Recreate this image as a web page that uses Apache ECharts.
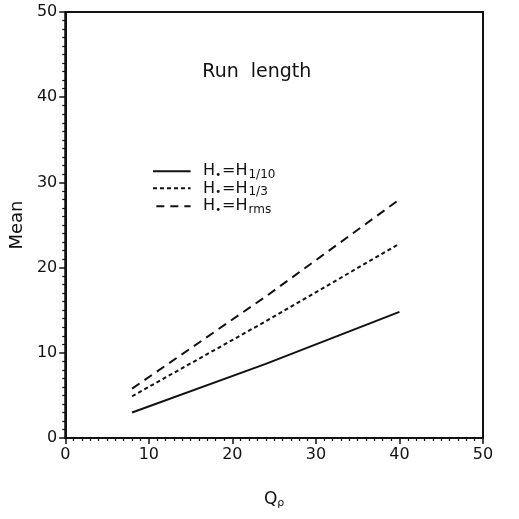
<!DOCTYPE html>
<html>
<head>
<meta charset="utf-8">
<script src="https://cdn.jsdelivr.net/npm/echarts@6/dist/echarts.min.js"></script>
<style>
  html, body { margin: 0; padding: 0; background: #fff; }
  #chart { width: 519px; height: 519px; }
</style>
</head>
<body>
<div id="chart"></div>
<script>
// Mean run length against peak period Qp for three wave-height definitions
const qp = [8, 24, 40];
const meanH110 = [3.0, 8.7, 14.8];   // He = H1/10
const meanH13 = [4.9, 13.7, 22.8];   // He = H1/3
const meanHrms = [5.8, 16.6, 28.0];  // He = Hrms

const xTicks = [0, 10, 20, 30, 40, 50];
const yTicks = [0, 10, 20, 30, 40, 50];

const keySubscripts = ['1/10', '1/3', 'rms'];
const keyDash = ['solid', [4, 3], [8, 6]];

const FONT = 'DejaVu Sans';
const INK = '#111';

const chart = echarts.init(document.getElementById('chart'), null, { renderer: 'canvas' });

function pairs(xs, ys) { return xs.map((x, i) => [x, ys[i]]); }

const axisCommon = {
  type: 'value',
  interval: 10,
  axisLine: { show: true, lineStyle: { color: INK, width: 2 } },
  axisTick: { show: true, inside: false, length: 6, lineStyle: { color: INK, width: 1.5 } },
  minorTick: { show: true, splitNumber: 10, length: 3, lineStyle: { color: INK, width: 1.2 } },
  splitLine: { show: false },
  minorSplitLine: { show: false },
  axisLabel: { color: INK, fontFamily: FONT, fontSize: 16 }
};

const lineStyles = {
  solid: { color: INK, width: 2, type: 'solid' },
  dotted: { color: INK, width: 2, type: [4, 3] },
  dashed: { color: INK, width: 2, type: [9, 6] }
};

chart.setOption({
  animation: false,
  backgroundColor: '#fff',
  grid: {
    left: 59, right: 36, top: 12, bottom: 81,
    show: true, borderColor: INK, borderWidth: 2, backgroundColor: 'transparent'
  },
  xAxis: Object.assign({}, axisCommon, {
    min: xTicks[0], max: xTicks[xTicks.length - 1],
    axisLabel: Object.assign({}, axisCommon.axisLabel, { margin: 9 }),
    name: '{q|Q}{p|ρ}',
    nameLocation: 'middle',
    nameGap: 52,
    nameTextStyle: {
      rich: {
        q: { fontFamily: FONT, fontSize: 17, color: INK },
        p: { fontFamily: FONT, fontSize: 11, color: INK, padding: [8, 0, 0, 0] }
      }
    }
  }),
  yAxis: Object.assign({}, axisCommon, {
    min: yTicks[0], max: yTicks[yTicks.length - 1],
    axisLabel: Object.assign({}, axisCommon.axisLabel, { margin: 8 }),
    name: 'Mean',
    nameLocation: 'middle',
    nameGap: 36,
    nameTextStyle: { fontFamily: FONT, fontSize: 18, color: INK }
  }),
  series: [
    { name: 'H1/10', type: 'line', data: pairs(qp, meanH110), symbol: 'none', lineStyle: lineStyles.solid },
    { name: 'H1/3', type: 'line', data: pairs(qp, meanH13), symbol: 'none', lineStyle: lineStyles.dotted },
    { name: 'Hrms', type: 'line', data: pairs(qp, meanHrms), symbol: 'none', lineStyle: lineStyles.dashed }
  ]
});

// Title and key are placed in data space so they follow the plot frame
function px(x, y) { return chart.convertToPixel({ gridIndex: 0 }, [x, y]); }

const graphics = [];
const titleAt = px(16.4, 42.9);
graphics.push({
  type: 'text', x: titleAt[0], y: titleAt[1],
  style: { text: 'Run  length', font: '19px "DejaVu Sans"', fill: INK, verticalAlign: 'middle' }
});

const keyRows = [31.3, 29.3, 27.2];
keyRows.forEach((yv, i) => {
  const a = px(i === 2 ? 10.9 : 10.5, yv);
  const b = px(15.0, yv);
  const t = px(16.5, yv);
  const style = { stroke: INK, lineWidth: 2 };
  if (keyDash[i] !== 'solid') style.lineDash = keyDash[i];
  graphics.push({ type: 'line', shape: { x1: a[0], y1: a[1], x2: b[0], y2: b[1] }, style: style });
  graphics.push({
    type: 'text', x: t[0], y: t[1],
    style: {
      text: '{h|H}{s|•}{h|=H}{b|' + keySubscripts[i] + '}',
      verticalAlign: 'middle',
      rich: {
        h: { fontFamily: FONT, fontSize: 16, fill: INK },
        s: { fontFamily: FONT, fontSize: 10, fill: INK, padding: [8, 1, 0, 0] },
        b: { fontFamily: FONT, fontSize: 12, fill: INK, padding: [8, 0, 0, 1] }
      }
    }
  });
});

chart.setOption({ graphic: graphics });
</script>
</body>
</html>
